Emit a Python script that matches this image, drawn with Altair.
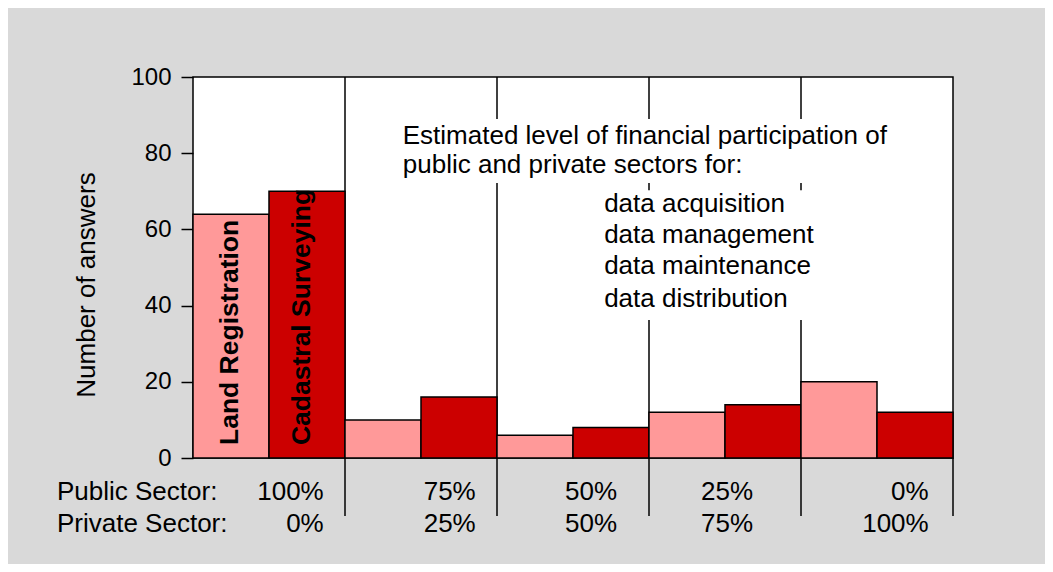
import altair as alt
import pandas as pd

# ---- data ----
series_names = ["Land Registration", "Cadastral Surveying"]
land_registration = [64, 10, 6, 12, 20]
cadastral_surveying = [70, 16, 8, 14, 12]
public_sector = ["100%", "75%", "50%", "25%", "0%"]
private_sector = ["0%", "25%", "50%", "75%", "100%"]
row_titles = ["Public Sector:", "Private Sector:"]
y_ticks = [0, 20, 40, 60, 80, 100]
note_head = ["Estimated level of financial participation of",
             "public and private sectors for:"]
note_items = ["data acquisition", "data management",
              "data maintenance", "data distribution"]
axis_title = "Number of answers"

FONT = "Liberation Sans"
FS = 26
LIGHT, DARK = "#FF9999", "#CC0000"
n_groups = len(land_registration)

xs = alt.Scale(domain=[0, 2 * n_groups], nice=False, zero=False)
ys = alt.Scale(domain=[0, 100], nice=False, zero=False)
yaxis = alt.Axis(values=y_ticks, tickSize=12, tickWidth=1.5, tickColor="black",
                 labelFont=FONT, labelFontSize=24, labelColor="black", labelPadding=10,
                 domain=False, grid=False, title=None)


def X(field):
    return alt.X(field, scale=xs, axis=None)


def Y(field):
    return alt.Y(field, scale=ys, axis=yaxis)


# bars: two adjacent bars per group
rows = []
for g in range(n_groups):
    rows.append(dict(x0=2 * g, x1=2 * g + 1, v=land_registration[g], base=0, s=series_names[0]))
    rows.append(dict(x0=2 * g + 1, x1=2 * g + 2, v=cadastral_surveying[g], base=0, s=series_names[1]))
bars_df = pd.DataFrame(rows)

bars = alt.Chart(bars_df).mark_bar(stroke="black", strokeWidth=1.5, opacity=1).encode(
    x=X("x0:Q"), x2="x1",
    y=Y("v:Q"), y2="base",
    color=alt.Color("s:N", scale=alt.Scale(domain=series_names, range=[LIGHT, DARK]), legend=None),
)

# group separators inside the plot (behind bars)
sep_df = pd.DataFrame({"x": [2 * g for g in range(1, n_groups)], "top": 100, "bot": 0})
sep_in = alt.Chart(sep_df).mark_rule(color="black", strokeWidth=1.5).encode(
    x=X("x:Q"), y=Y("top:Q"), y2="bot",
)

# separators below the plot, between the percentage labels
sep_out_df = pd.DataFrame({"x": [2 * g for g in range(1, n_groups + 1)], "top": 0, "bot": -15.2})
sep_out = alt.Chart(sep_out_df).mark_rule(color="black", strokeWidth=1.5).encode(
    x=X("x:Q"), y=Y("top:Q"), y2="bot",
)

# white backgrounds behind the annotation text
box_df = pd.DataFrame({"x": [2.70, 5.36], "x2": [9.2, 8.18], "y": [89.0, 70.3], "y2": [72.2, 36.2]})
boxes = alt.Chart(box_df).mark_rect(fill="white").encode(
    x=X("x:Q"), x2="x2", y=Y("y:Q"), y2="y2",
)

head_df = pd.DataFrame({"t": note_head, "x": 2.76, "y": [82.3, 74.8]})
head = alt.Chart(head_df).mark_text(align="left", baseline="alphabetic", font=FONT,
                                    fontSize=FS, color="black").encode(
    x=X("x:Q"), y=Y("y:Q"), text="t:N",
)
items_df = pd.DataFrame({"t": note_items, "x": 5.41, "y": [64.6, 56.5, 48.3, 39.7]})
items = alt.Chart(items_df).mark_text(align="left", baseline="alphabetic", font=FONT,
                                      fontSize=FS, color="black").encode(
    x=X("x:Q"), y=Y("y:Q"), text="t:N",
)

# rotated series labels inside the first two bars
lab_df = pd.DataFrame({"t": series_names, "x": [0.59, 1.54], "y": 3.4})
bar_labels = alt.Chart(lab_df).mark_text(angle=270, align="left", baseline="alphabetic",
                                         font=FONT, fontSize=26.5, fontWeight="bold",
                                         color="black").encode(
    x=X("x:Q"), y=Y("y:Q"), text="t:N",
)

# percentage rows under the plot
pct_x = [1.72, 3.72, 5.58, 7.37, 9.68]
pct_df = pd.DataFrame({
    "t": public_sector + private_sector,
    "x": pct_x + pct_x,
    "y": [-11.0] * n_groups + [-19.3] * n_groups,
})
pct = alt.Chart(pct_df).mark_text(align="right", baseline="alphabetic", font=FONT,
                                  fontSize=FS, color="black").encode(
    x=X("x:Q"), y=Y("y:Q"), text="t:N",
)
rt_df = pd.DataFrame({"t": row_titles, "x": -1.79, "y": [-11.0, -19.3]})
row_t = alt.Chart(rt_df).mark_text(align="left", baseline="alphabetic", font=FONT,
                                   fontSize=FS, color="black").encode(
    x=X("x:Q"), y=Y("y:Q"), text="t:N",
)

yt_df = pd.DataFrame({"t": [axis_title], "x": [-1.39], "y": [45.4]})
ytitle = alt.Chart(yt_df).mark_text(angle=270, align="center", baseline="middle", font=FONT,
                                    fontSize=FS, color="black").encode(
    x=X("x:Q"), y=Y("y:Q"), text="t:N",
)

chart = alt.layer(
    sep_in, boxes, head, items, bars, sep_out, pct, row_t, ytitle, bar_labels
).properties(
    width=760, height=381,
    autosize=alt.AutoSizeParams(type="none"),
    padding={"left": 185, "top": 69, "right": 92, "bottom": 106},
    background="#D9D9D9",
).configure_view(stroke="black", strokeWidth=1.5, fill="white")

chart.save("out.html", embed_options={"renderer": "svg", "actions": False})
